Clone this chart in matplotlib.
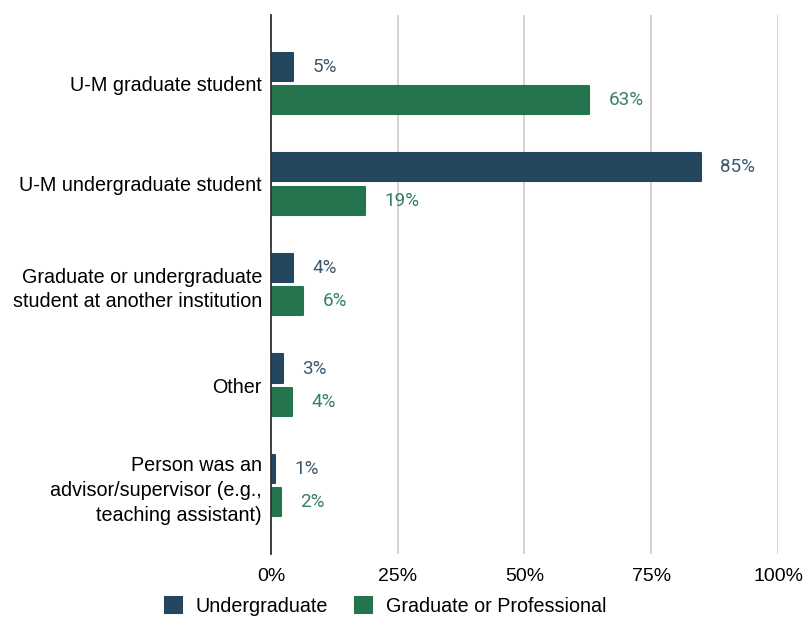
"""
Horizontal grouped bar chart: relationship of the person to the respondent,
split by undergraduate vs graduate/professional respondents.
"""

import matplotlib
matplotlib.use('Agg')
import matplotlib.pyplot as plt
import numpy as np
from matplotlib.ticker import FuncFormatter

# Data
categories = [
    'U-M graduate student',
    'U-M undergraduate student',
    'Graduate or undergraduate\nstudent at another institution',
    'Other',
    'Person was an\nadvisor/supervisor (e.g.,\nteaching assistant)',
]
undergrad = [4.3, 84.8, 4.3, 2.4, 0.8]
grad_prof = [62.7, 18.5, 6.3, 4.1, 2.0]
undergrad_labels = ['5%', '85%', '4%', '3%', '1%']
grad_prof_labels = ['63%', '19%', '6%', '4%', '2%']
series_names = ['Undergraduate', 'Graduate or Professional']
xticks = [0, 25, 50, 75, 100]

BLUE = '#24465e'
GREEN = '#24744e'
BLUE_TXT = '#3b5870'
GREEN_TXT = '#358160'


def main():
    fig = plt.figure(figsize=(8.04, 6.17), dpi=100)
    ax = fig.add_axes([0.337, 0.102, 0.6307, 0.8736])

    y = np.arange(len(categories))
    h = 0.28
    off = 0.165
    b1 = ax.barh(y - off, undergrad, height=h, color=BLUE, label=series_names[0], zorder=3,
                 edgecolor=BLUE, linewidth=1.5, joinstyle='round')
    b2 = ax.barh(y + off, grad_prof, height=h, color=GREEN, label=series_names[1], zorder=3,
                 edgecolor=GREEN, linewidth=1.5, joinstyle='round')

    # Value labels
    for bars, labels, col in ((b1, undergrad_labels, BLUE_TXT), (b2, grad_prof_labels, GREEN_TXT)):
        for rect, lab in zip(bars, labels):
            ax.annotate(lab, (rect.get_width(), rect.get_y() + rect.get_height() / 2),
                        xytext=(14, 0), textcoords='offset points',
                        ha='left', va='center', color=col,
                        fontsize=13.6, family='Roboto')

    ax.set_xlim(0, 100)
    ax.set_ylim(len(categories) - 1 + 0.68, -0.68)
    ax.set_xticks(xticks)
    ax.xaxis.set_major_formatter(FuncFormatter(lambda v, p: f'{v:.0f}%'))
    ax.set_yticks(y)
    ax.set_yticklabels(categories, family='Liberation Sans', fontsize=14.2,
                       linespacing=1.38)
    for t in ax.get_xticklabels():
        t.set_family('Liberation Sans')
        t.set_fontsize(14)

    ax.tick_params(axis='both', length=0)
    ax.tick_params(axis='x', pad=10)
    ax.tick_params(axis='y', pad=6.5)
    ax.grid(axis='x', color='#cccccc', linewidth=1.2, zorder=0)
    for s in ('top', 'right', 'bottom'):
        ax.spines[s].set_visible(False)
    ax.spines['left'].set_color('#333333')
    ax.spines['left'].set_linewidth(1.3)
    ax.spines['left'].set_zorder(4)

    fig.legend(handles=[b1, b2], labels=series_names, loc='center',
               bbox_to_anchor=(0.48, 0.017), ncol=2, frameon=False,
               prop={'family': 'Liberation Sans', 'size': 14.2},
               handlelength=0.85, handleheight=0.85, columnspacing=1.37,
               handletextpad=0.7)

    fig.savefig('out.png', dpi=100)


if __name__ == '__main__':
    main()
